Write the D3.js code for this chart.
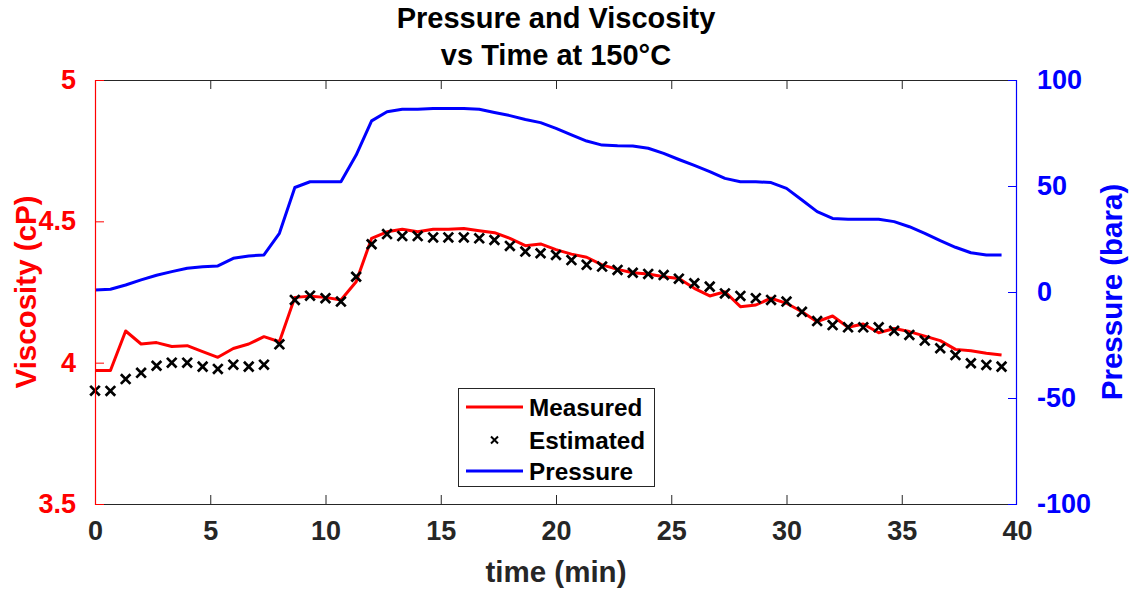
<!DOCTYPE html>
<html>
<head>
<meta charset="utf-8">
<script src="https://cdn.jsdelivr.net/npm/d3@7"></script>
<style>
  html, body { margin: 0; padding: 0; background: #fff; }
  svg { display: block; font-family: "Liberation Sans", Arial, Helvetica, sans-serif; }
</style>
</head>
<body>
<svg id="chart" width="1133" height="596"></svg>
<script>
// ---- data ----
const timeMin = [0,0.67,1.33,2,2.67,3.33,4,4.67,5.33,6,6.67,7.33,8,8.67,9.33,10,10.67,11.33,12,12.67,
  13.33,14,14.67,15.33,16,16.67,17.33,18,18.67,19.33,20,20.67,21.33,22,22.67,23.33,24,24.67,25.33,26,
  26.67,27.33,28,28.67,29.33,30,30.67,31.33,32,32.67,33.33,34,34.67,35.33,36,36.67,37.33,38,38.67,39.33];

const measured = [3.972,3.972,4.112,4.066,4.071,4.057,4.06,4.039,4.019,4.05,4.066,4.092,4.074,4.231,4.235,4.231,4.222,4.286,4.44,4.463,
  4.472,4.463,4.472,4.472,4.475,4.467,4.46,4.44,4.414,4.42,4.40,4.384,4.373,4.346,4.33,4.318,4.314,4.304,4.298,4.263,
  4.236,4.251,4.198,4.204,4.228,4.21,4.18,4.145,4.165,4.125,4.137,4.106,4.121,4.11,4.094,4.078,4.047,4.042,4.033,4.027];

const estimated = [3.901,3.90,3.942,3.964,3.989,4.0,4.0,3.986,3.978,3.993,3.986,3.993,4.065,4.222,4.237,4.228,4.216,4.304,4.419,4.455,
  4.448,4.448,4.443,4.443,4.443,4.44,4.434,4.413,4.393,4.387,4.381,4.363,4.346,4.34,4.328,4.318,4.314,4.31,4.297,4.281,
  4.269,4.245,4.236,4.228,4.222,4.216,4.18,4.147,4.133,4.125,4.125,4.125,4.113,4.098,4.078,4.051,4.027,3.998,3.992,3.986];

const pressure = [0.9,1.3,3.3,5.7,7.9,9.6,11.2,11.9,12.3,15.9,17,17.5,27.7,49.3,52,52,52,64.6,80.7,85,
  86.2,86.2,86.5,86.5,86.5,86.2,84.7,83.2,81.4,79.9,77.2,74.1,71.2,69.3,69,68.9,67.8,65.4,62.5,59.7,
  56.8,53.6,52,52,51.6,48.9,43.4,37.9,34.7,34.3,34.3,34.3,33.2,30.8,27.7,24.2,21.1,18.5,17.5,17.5];

const xTicks = [0,5,10,15,20,25,30,35,40];
const yLeftTicks = [3.5,4,4.5,5];
const yRightTicks = [-100,-50,0,50,100];
const titleLines = ["Pressure and Viscosity", "vs Time at 150°C"];
const xLabel = "time (min)";
const yLeftLabel = "Viscosity (cP)";
const yRightLabel = "Pressure (bara)";
const legendLabels = ["Measured", "Estimated", "Pressure"];

// ---- layout ----
const L = 95, R = 1017, T = 80, B = 504;
const tickLen = 9;
const axisGray = "#262626";
const RED = "#ff0000", BLUE = "#0000ff";

const svg = d3.select("#chart");

const x = d3.scaleLinear().domain([0, 40]).range([L, R]);
const yL = d3.scaleLinear().domain([3.5, 5]).range([B, T]);
const yR = d3.scaleLinear().domain([-100, 100]).range([B, T]);

// data layer (clip to plot area)
svg.append("clipPath").attr("id", "clip")
  .append("rect").attr("x", L - 6).attr("y", T).attr("width", R - L + 12).attr("height", B - T);
const plot = svg.append("g").attr("clip-path", "url(#clip)");

const rows = timeMin.map((t, i) => ({t, m: measured[i], e: estimated[i], p: pressure[i]}));

plot.append("path").datum(rows)
  .attr("fill", "none").attr("stroke", BLUE).attr("stroke-width", 3).attr("stroke-linejoin", "round")
  .attr("d", d3.line().x(d => x(d.t)).y(d => yR(d.p)));

plot.append("path").datum(rows)
  .attr("fill", "none").attr("stroke", RED).attr("stroke-width", 3).attr("stroke-linejoin", "round")
  .attr("d", d3.line().x(d => x(d.t)).y(d => yL(d.m)));

const ms = 4.8;
plot.append("g").selectAll("path").data(rows).join("path")
  .attr("fill", "none").attr("stroke", "#000").attr("stroke-width", 2.7)
  .attr("d", d => {
    const cx = x(d.t), cy = yL(d.e);
    return `M${cx-ms},${cy-ms}L${cx+ms},${cy+ms}M${cx-ms},${cy+ms}L${cx+ms},${cy-ms}`;
  });

// ---- axes ----
const styleAxis = (g, color, fontSize, weight) => {
  g.select(".domain").remove();
  g.selectAll(".tick line").attr("stroke", color).attr("stroke-width", 1);
  g.selectAll(".tick text").attr("fill", color).attr("font-size", fontSize)
    .attr("font-weight", weight).attr("font-family", "Liberation Sans, Arial, sans-serif");
};

// bottom
const gB = svg.append("g").attr("transform", `translate(0,${B})`)
  .call(d3.axisBottom(x).tickValues(xTicks).tickFormat(d => String(d)).tickSizeInner(-tickLen).tickSizeOuter(0).tickPadding(20));
styleAxis(gB, axisGray, 27, "bold");
gB.selectAll(".tick text").attr("dy", "0.71em").attr("y", 17);
gB.selectAll(".tick line").filter(d => d === 0 || d === 40).remove();

// top (ticks only)
const gT = svg.append("g").attr("transform", `translate(0,${T})`)
  .call(d3.axisTop(x).tickValues(xTicks).tickFormat("").tickSizeInner(-tickLen).tickSizeOuter(0));
styleAxis(gT, axisGray, 0, "normal");
gT.selectAll(".tick").filter(d => d === 0 || d === 40).remove();

// frame lines top & bottom
svg.append("line").attr("x1", L).attr("x2", R).attr("y1", T + 0.5).attr("y2", T + 0.5)
  .attr("stroke", axisGray).attr("stroke-width", 1);
svg.append("line").attr("x1", L).attr("x2", R).attr("y1", B + 0.5).attr("y2", B + 0.5)
  .attr("stroke", axisGray).attr("stroke-width", 1);

// left
const gL = svg.append("g").attr("transform", `translate(${L},0)`)
  .call(d3.axisLeft(yL).tickValues(yLeftTicks).tickFormat(d => String(d)).tickSizeInner(-tickLen).tickSizeOuter(0).tickPadding(19));
styleAxis(gL, RED, 27, "bold");
svg.append("line").attr("x1", L + 0.5).attr("x2", L + 0.5).attr("y1", T).attr("y2", B + 1)
  .attr("stroke", RED).attr("stroke-width", 1.2);

// right
const gR = svg.append("g").attr("transform", `translate(${R},0)`)
  .call(d3.axisRight(yR).tickValues(yRightTicks).tickFormat(d => String(d)).tickSizeInner(-tickLen).tickSizeOuter(0).tickPadding(20));
styleAxis(gR, BLUE, 27, "bold");
svg.append("line").attr("x1", R - 0.5).attr("x2", R - 0.5).attr("y1", T).attr("y2", B + 1)
  .attr("stroke", BLUE).attr("stroke-width", 1.2);

// ---- labels ----
const title = svg.append("text").attr("text-anchor", "middle").attr("font-weight", "bold")
  .attr("font-size", 29).attr("fill", "#000");
title.selectAll("tspan").data(titleLines).join("tspan")
  .attr("x", (L + R) / 2).attr("y", (d, i) => 28 + i * 37).text(d => d);

svg.append("text").attr("x", (L + R) / 2).attr("y", 582).attr("text-anchor", "middle")
  .attr("font-weight", "bold").attr("font-size", 29.5).attr("fill", axisGray).text(xLabel);

svg.append("text").attr("transform", `translate(36,${(T + B) / 2}) rotate(-90)`)
  .attr("text-anchor", "middle").attr("font-weight", "bold").attr("font-size", 29.5)
  .attr("fill", RED).text(yLeftLabel);

svg.append("text").attr("transform", `translate(1122,${(T + B) / 2}) rotate(-90)`)
  .attr("text-anchor", "middle").attr("font-weight", "bold").attr("font-size", 29.5)
  .attr("fill", BLUE).text(yRightLabel);

// ---- legend ----
const lg = svg.append("g");
lg.append("rect").attr("x", 458.5).attr("y", 388.5).attr("width", 196).attr("height", 98)
  .attr("fill", "#fff").attr("stroke", axisGray).attr("stroke-width", 1);
const legRows = [407, 440, 471];
const legItems = [
  {label: legendLabels[0], type: "line", color: RED},
  {label: legendLabels[1], type: "x", color: "#000"},
  {label: legendLabels[2], type: "line", color: BLUE}
];
legItems.forEach((it, i) => {
  const cy = legRows[i];
  if (it.type === "line") {
    lg.append("line").attr("x1", 466).attr("x2", 523).attr("y1", cy).attr("y2", cy)
      .attr("stroke", it.color).attr("stroke-width", 3);
  } else {
    const cx = 494.5, s = 3.5;
    lg.append("path").attr("d", `M${cx-s},${cy-s}L${cx+s},${cy+s}M${cx-s},${cy+s}L${cx+s},${cy-s}`)
      .attr("stroke", "#000").attr("stroke-width", 2).attr("fill", "none");
  }
  lg.append("text").attr("x", 529).attr("y", cy).attr("dy", "0.36em")
    .attr("font-weight", "bold").attr("font-size", 24.3).attr("fill", "#000").text(it.label);
});
</script>
</body>
</html>
